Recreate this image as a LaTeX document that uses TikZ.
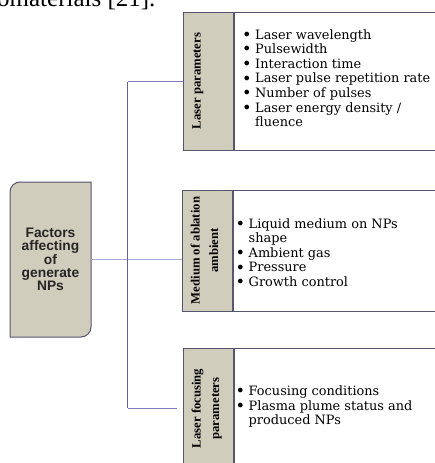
\documentclass[tikz,border=0pt]{standalone}
\usepackage{fontspec}
\setmainfont{DejaVu Serif}
\newfontfamily\labelfont{Liberation Serif}
\newfontfamily\hubfont{Liberation Sans}
\definecolor{NPTag}{HTML}{D1CDBD}
\definecolor{NPEdge}{HTML}{56566E}
\definecolor{NPSpine}{HTML}{62629A}
\definecolor{NPBranch}{HTML}{7E7EBE}
\definecolor{NPCross}{HTML}{ABABD8}
\tikzset{
  tagbox/.style={draw=NPEdge,fill=NPTag,line width=0.9pt,minimum width=50pt,inner sep=0pt,anchor=north west},
  listbox/.style={draw=NPEdge,line width=0.9pt,minimum width=215pt,inner sep=0pt,anchor=north west},
  tagtext/.style={rotate=90,anchor=north,align=center,inner sep=0pt,font=\labelfont\bfseries\fontsize{12.7}{18.5}\selectfont},
  item/.style={anchor=base west,inner sep=0pt,font=\fontsize{12.9}{14.6}\selectfont},
  branch/.style={draw=NPBranch,line width=1pt},
  spine/.style={draw=NPSpine,line width=1pt}
}
\newcommand\blt{\makebox[10pt][l]{\hspace*{-3pt}\raisebox{-1.2pt}{\scalebox{1.25}{\textbullet}}\hss}}
\newcommand\cnt{\hspace*{10pt}}
\begin{document}
\begin{tikzpicture}[x=1pt,y=-1pt]
\path[use as bounding box] (0,0) rectangle (435,463);
\node[anchor=base west,inner sep=0pt,font=\labelfont\fontsize{25}{25}\selectfont] (cite) at (-3,6.5) {omaterials [21].};

% hub
\draw[draw=NPEdge,fill=NPTag,line width=1pt] (91,182) -- (20,182) arc[start angle=90,end angle=180,radius=10pt] -- (10,337) -- (81,337) arc[start angle=270,end angle=360,radius=10pt] -- cycle;
\node[minimum width=81pt,minimum height=155pt,inner sep=0pt,align=center,text=black!85,font=\hubfont\bfseries\fontsize{13.8}{13.3}\selectfont] (hub) at (50.5,259.5) {Factors\\affecting\\of\\generate\\NPs};

% laser parameters
\node[tagbox,minimum height=138pt] (lp) at (183,12) {};
\node[listbox,minimum height=138pt] (lpl) at (lp.north east) {};
\node[tagtext] (lpt) at (192,81) {Laser parameters};
\foreach \txt [count=\n from 0] in {{\blt Laser wavelength},{\blt Pulsewidth},{\blt Interaction time},{\blt Laser pulse repetition rate},{\blt Number of pulses},{\blt Laser energy density /},{\cnt fluence}}
  \node[item] (lpi\n) at (245,39+14.6*\n) {\txt};

% medium
\node[tagbox,minimum height=121pt] (mb) at (182,190) {};
\node[listbox,minimum height=121pt] (mbl) at (mb.north east) {};
\node[tagtext] (mbt) at (190.5,250.5) {Medium of ablation\\ambient};
\foreach \txt [count=\n from 0] in {{\blt Liquid medium on NPs},{\cnt shape},{\blt Ambient gas},{\blt Pressure},{\blt Growth control}}
  \node[item] (mbi\n) at (238.5,228+14.6*\n) {\txt};

% focusing
\node[tagbox,minimum height=130pt] (lf) at (183,348) {};
\node[listbox,minimum height=130pt] (lfl) at (lf.north east) {};
\node[tagtext] (lft) at (191.5,408.5) {Laser focusing\\parameters};
\foreach \txt [count=\n from 0] in {{\blt Focusing conditions},{\blt Plasma plume status and},{\cnt produced NPs}}
  \node[item] (lfi\n) at (238.5,395.5+14.6*\n) {\txt};

% connectors
\coordinate (jt) at (127.5,81.7);
\coordinate (jb) at (127.5,408);
\coordinate (jbe) at (177,408);
\draw[branch,draw=NPCross] (hub.east) -- (hub.east -| mb.west);
\draw[branch] (jt) -- (jt -| lp.west);
\draw[branch] (jb) -- (jbe);
\draw[spine] (jt) -- (jb);
\end{tikzpicture}
\end{document}
